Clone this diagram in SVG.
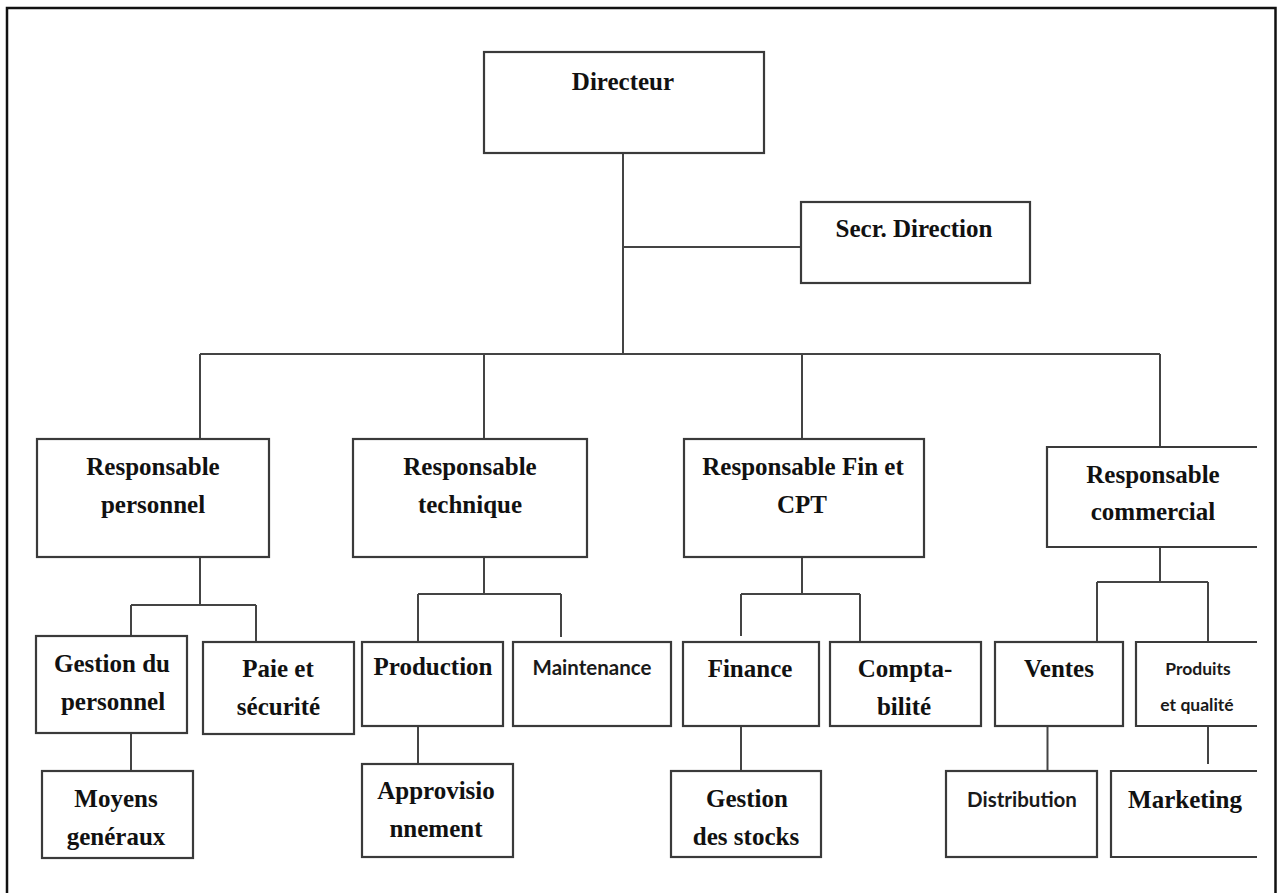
<svg xmlns="http://www.w3.org/2000/svg" width="1279" height="893" viewBox="0 0 1279 893">
<style>
.box{fill:#fff;stroke:#3a3a3a;stroke-width:2.2}
.conn{fill:none;stroke:#444;stroke-width:2}
.frame{fill:none;stroke:#111;stroke-width:2.5}
.t{font-family:"Liberation Serif","Times New Roman",serif;font-weight:bold;font-size:25px;fill:#111;text-anchor:middle}
.s{font-family:Lato,"Open Sans",sans-serif;font-weight:bold;font-size:20.5px;fill:#1a1a1a;text-anchor:middle}
.ss{font-family:Lato,"Open Sans",sans-serif;font-weight:bold;font-size:17.5px;fill:#1a1a1a;text-anchor:middle}
</style>
<rect width="1279" height="893" fill="#fff"/>
<path class="frame" d="M7,893 V8 H1275.5 V893"/>
<g id="connectors">
<path class="conn" d="M623,153 V354"/>
<path class="conn" d="M623,247 H801"/>
<path class="conn" d="M200,354 H1160"/>
<path class="conn" d="M200,354 V439 M484,354 V439 M802,354 V439 M1160,354 V447"/>
<path class="conn" d="M200,557 V605 M131,605 H256 M131,605 V636 M256,605 V642"/>
<path class="conn" d="M131,733 V771"/>
<path class="conn" d="M484,557 V594 M418,594 H561 M418,594 V642 M561,594 V637"/>
<path class="conn" d="M418,726 V764"/>
<path class="conn" d="M802,557 V594 M741,594 H860 M741,594 V636 M860,594 V642"/>
<path class="conn" d="M741,726 V771"/>
<path class="conn" d="M1160,547 V582 M1097,582 H1208 M1097,582 V642 M1208,582 V642"/>
<path class="conn" d="M1047.5,726 V771"/>
<path class="conn" d="M1208,726 V764"/>
</g>
<g id="directeur"><rect class="box" x="484" y="52" width="280" height="101"/><text class="t" x="623" y="90">Directeur</text></g>
<g id="secr"><rect class="box" x="801" y="202" width="229" height="81"/><text class="t" x="914" y="237">Secr. Direction</text></g>
<g id="resp-personnel"><rect class="box" x="37" y="439" width="232" height="118"/><text class="t" x="153" y="475">Responsable</text><text class="t" x="153" y="513">personnel</text></g>
<g id="resp-technique"><rect class="box" x="353" y="439" width="234" height="118"/><text class="t" x="470" y="475">Responsable</text><text class="t" x="470" y="513">technique</text></g>
<g id="resp-fin"><rect class="box" x="684" y="439" width="240" height="118"/><text class="t" x="803" y="475">Responsable Fin et</text><text class="t" x="802" y="513">CPT</text></g>
<g id="resp-commercial"><path class="box" d="M1257,447 H1047 V547 H1257"/><text class="t" x="1153" y="483">Responsable</text><text class="t" x="1153" y="520">commercial</text></g>
<g id="gestion-personnel"><rect class="box" x="36" y="636" width="151" height="97"/><text class="t" x="112" y="672">Gestion du</text><text class="t" x="113" y="710">personnel</text></g>
<g id="paie"><rect class="box" x="203" y="642" width="151" height="92"/><text class="t" x="278" y="677">Paie et</text><text class="t" x="278.5" y="715">sécurité</text></g>
<g id="moyens"><rect class="box" x="42" y="771" width="151" height="87"/><text class="t" x="116" y="807">Moyens</text><text class="t" x="116" y="845">genéraux</text></g>
<g id="production"><rect class="box" x="362" y="642" width="141" height="84"/><text class="t" x="433" y="675">Production</text></g>
<g id="maintenance"><rect class="box" x="513" y="642" width="158" height="84"/><text class="s" x="592" y="675">Maintenance</text></g>
<g id="approvisionnement"><rect class="box" x="362" y="764" width="151" height="93"/><text class="t" x="436" y="799">Approvisio</text><text class="t" x="436" y="837">nnement</text></g>
<g id="finance"><rect class="box" x="683" y="642" width="136" height="84"/><text class="t" x="750" y="677">Finance</text></g>
<g id="comptabilite"><rect class="box" x="830" y="642" width="151" height="84"/><text class="t" x="905" y="677">Compta-</text><text class="t" x="904" y="715">bilité</text></g>
<g id="gestion-stocks"><rect class="box" x="671" y="771" width="150" height="86"/><text class="t" x="747" y="807">Gestion</text><text class="t" x="746" y="845">des stocks</text></g>
<g id="ventes"><rect class="box" x="995" y="642" width="128" height="84"/><text class="t" x="1059" y="677">Ventes</text></g>
<g id="produits"><path class="box" d="M1257,642 H1136 V726 H1257"/><text class="ss" x="1198" y="675">Produits</text><text class="ss" x="1197" y="711">et qualité</text></g>
<g id="distribution"><rect class="box" x="946" y="771" width="151" height="86"/><text class="s" x="1022" y="807">Distribution</text></g>
<g id="marketing"><path class="box" d="M1257,771 H1111 V857 H1257"/><text class="t" x="1185" y="808">Marketing</text></g>
</svg>
